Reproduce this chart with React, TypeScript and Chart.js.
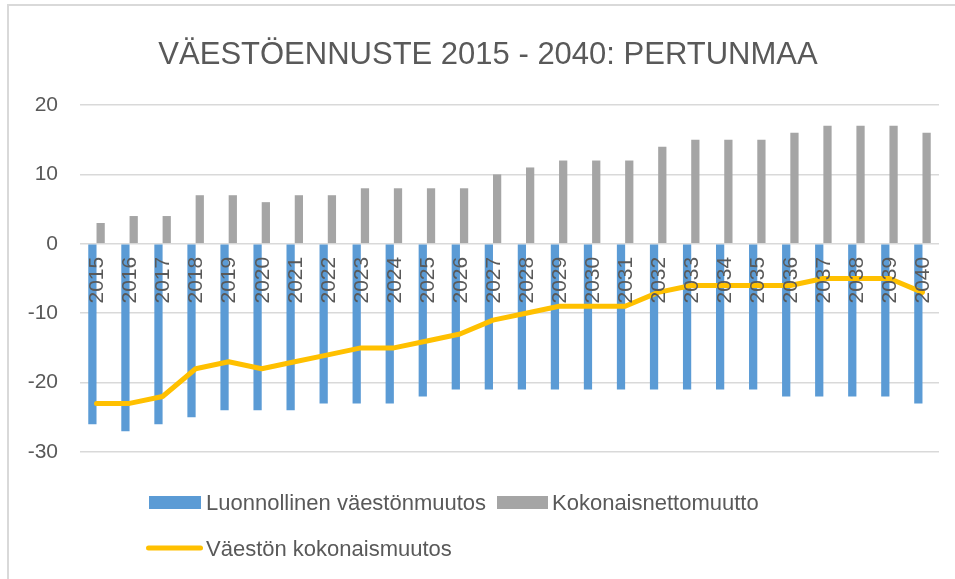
import React, { useEffect, useRef } from "react";
import { Chart, registerables } from "chart.js";

Chart.register(...registerables);

const TITLE = "VÄESTÖENNUSTE 2015 - 2040: PERTUNMAA";
const YEARS = [
  "2015", "2016", "2017", "2018", "2019", "2020", "2021", "2022", "2023", "2024",
  "2025", "2026", "2027", "2028", "2029", "2030", "2031", "2032", "2033", "2034",
  "2035", "2036", "2037", "2038", "2039", "2040",
];
const NATURAL_LABEL = "Luonnollinen väestönmuutos";
const NET_LABEL = "Kokonaisnettomuutto";
const TOTAL_LABEL = "Väestön kokonaismuutos";
const NATURAL = [-26, -27, -26, -25, -24, -24, -24, -23, -23, -23, -22, -21, -21, -21, -21, -21, -21, -21, -21, -21, -21, -22, -22, -22, -22, -23];
const NET = [3, 4, 4, 7, 7, 6, 7, 7, 8, 8, 8, 8, 10, 11, 12, 12, 12, 14, 15, 15, 15, 16, 17, 17, 17, 16];
const TOTAL = [-23, -23, -22, -18, -17, -18, -17, -16, -15, -15, -14, -13, -11, -10, -9, -9, -9, -7, -6, -6, -6, -6, -5, -5, -5, -7];
const Y_MIN = -30;
const Y_MAX = 20;
const Y_STEP = 10;

const FONT = "'Liberation Sans', Arial, sans-serif";
const TEXT = "#595959";
const BLUE = "#5B9BD5";
const GRAY = "#A5A5A5";
const YELLOW = "#FFC000";
const GRID = "#D9D9D9";

const overlayPlugin = {
  id: "overlay",
  afterDatasetsDraw(chart: any) {
    const ctx = chart.ctx;
    const xs = chart.scales.x;
    const ys = chart.scales.y;
    const y0 = ys.getPixelForValue(0);
    ctx.save();
    ctx.fillStyle = TEXT;
    ctx.font = `21px ${FONT}`;
    YEARS.forEach((lab, i) => {
      const x = xs.getPixelForValue(i);
      ctx.save();
      ctx.translate(x + 1, y0 + 13);
      ctx.rotate(-Math.PI / 2);
      ctx.textAlign = "right";
      ctx.textBaseline = "middle";
      ctx.fillText(lab, 0, 0);
      ctx.restore();
    });
    ctx.restore();
  },
  afterDraw(chart: any) {
    const ctx = chart.ctx;
    ctx.save();
    // title
    ctx.fillStyle = TEXT;
    ctx.font = `31px ${FONT}`;
    ctx.textAlign = "center";
    ctx.textBaseline = "alphabetic";
    ctx.fillText(TITLE, 488, 64);
    // legend
    ctx.font = `22px ${FONT}`;
    ctx.textAlign = "left";
    ctx.fillStyle = BLUE;
    ctx.fillRect(149, 496, 52, 13);
    ctx.fillStyle = GRAY;
    ctx.fillRect(497, 496, 51, 13);
    ctx.fillStyle = TEXT;
    ctx.fillText(NATURAL_LABEL, 206, 510);
    ctx.fillText(NET_LABEL, 552, 510);
    ctx.strokeStyle = YELLOW;
    ctx.lineWidth = 5;
    ctx.lineCap = "round";
    ctx.beginPath();
    ctx.moveTo(148.5, 548);
    ctx.lineTo(200.5, 548);
    ctx.stroke();
    ctx.fillText(TOTAL_LABEL, 206, 556);
    ctx.restore();
  },
};

export default function App() {
  const ref = useRef<HTMLCanvasElement | null>(null);
  useEffect(() => {
    if (!ref.current) return;
    const chart = new Chart(ref.current, {
      type: "bar",
      data: {
        labels: YEARS,
        datasets: [
          {
            type: "bar",
            label: NATURAL_LABEL,
            data: NATURAL,
            backgroundColor: BLUE,
            categoryPercentage: 0.5,
            barPercentage: 1.0,
            order: 2,
          },
          {
            type: "bar",
            label: NET_LABEL,
            data: NET,
            backgroundColor: GRAY,
            categoryPercentage: 0.5,
            barPercentage: 1.0,
            order: 2,
          },
          {
            type: "line",
            label: TOTAL_LABEL,
            data: TOTAL,
            borderColor: YELLOW,
            backgroundColor: YELLOW,
            borderWidth: 5,
            pointRadius: 0,
            tension: 0,
            borderCapStyle: "round",
            borderJoinStyle: "round",
            order: 0,
          } as any,
        ],
      },
      options: {
        responsive: false,
        animation: false,
        layout: { padding: { left: 8, right: 16, top: 105, bottom: 127 } },
        plugins: {
          legend: { display: false },
          title: { display: false },
          tooltip: { enabled: false },
        },
        scales: {
          x: { display: false },
          y: {
            min: Y_MIN,
            max: Y_MAX,
            afterFit: (s: any) => {
              s.width = 72;
            },
            ticks: {
              stepSize: Y_STEP,
              color: TEXT,
              font: { family: FONT, size: 21 },
              padding: 22,
            },
            grid: { color: GRID, lineWidth: 1.5, drawTicks: false },
            border: { display: false },
          },
        },
      },
      plugins: [overlayPlugin],
    });
    return () => chart.destroy();
  }, []);
  return (
    <div style={{ position: "fixed", left: 0, top: 0, width: 955, height: 579, background: "#fff", overflow: "hidden" }}>
      <div
        style={{
          position: "absolute",
          left: 7,
          top: 4,
          width: 2000,
          height: 2000,
          border: "2px solid #D9D9D9",
          pointerEvents: "none",
        }}
      />
      <canvas ref={ref} width={955} height={579} style={{ position: "absolute", left: 0, top: 0 }} />
    </div>
  );
}
